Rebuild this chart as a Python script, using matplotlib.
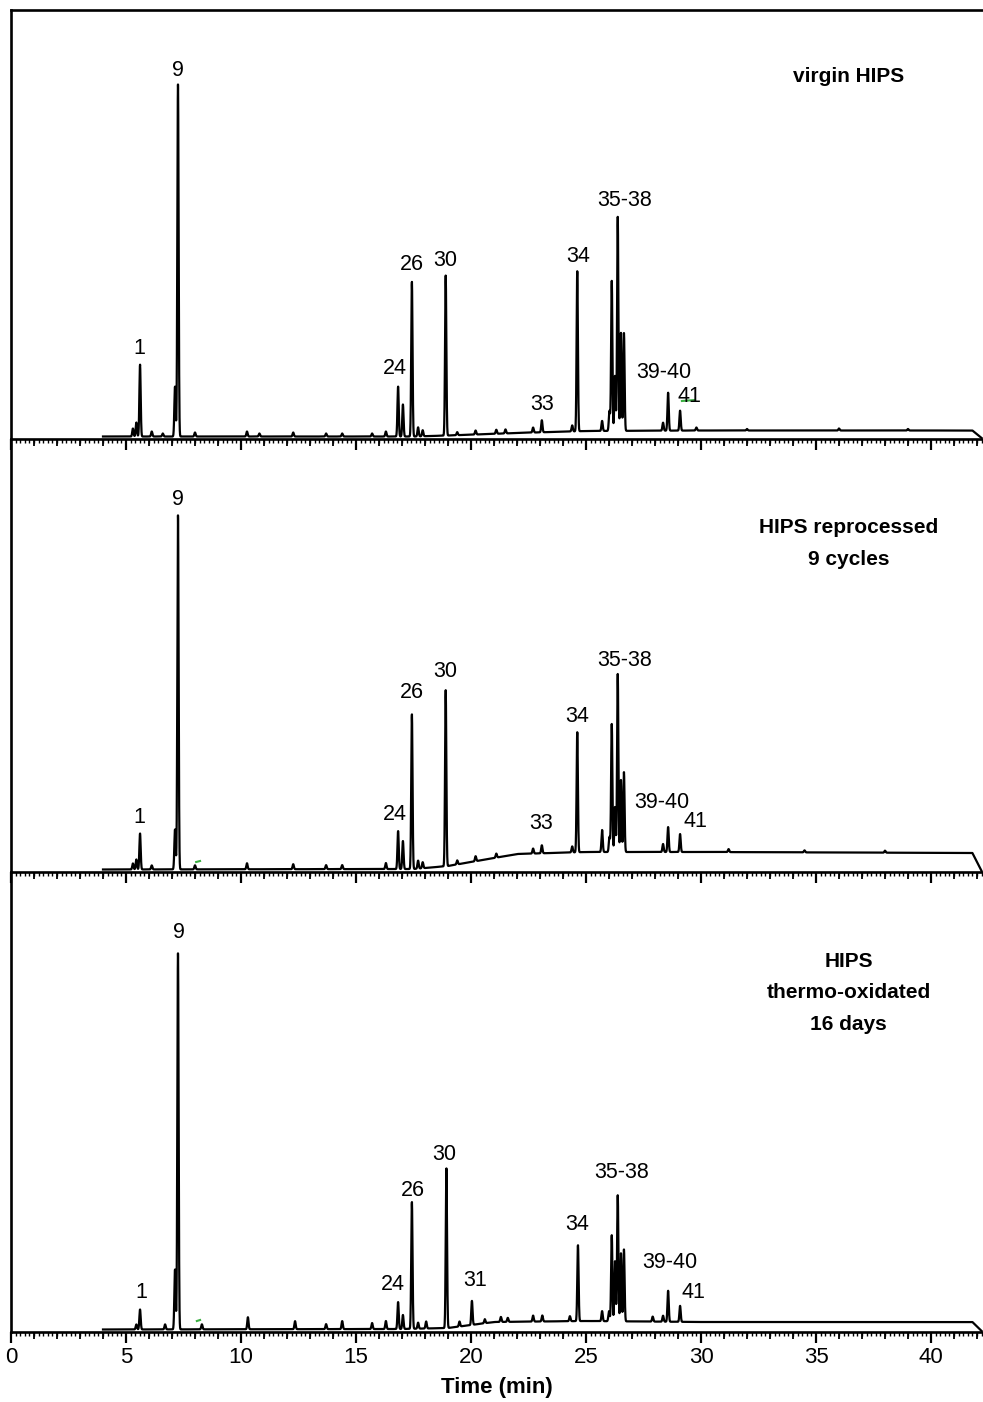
import numpy as np
import matplotlib.pyplot as plt
from matplotlib.ticker import MultipleLocator

plt.rcParams['font.family'] = ['Liberation Sans', 'DejaVu Sans']

# ---------------------------------------------------------------------------
# Peak tables: retention time (min) and peak height (arbitrary units)
# ---------------------------------------------------------------------------
virgin_rt = [5.30, 5.45, 5.61, 6.12, 6.60, 7.13, 7.26, 8.00, 10.26, 10.80, 12.27,
             13.70, 14.40, 15.70, 16.30, 16.83, 17.04, 17.43, 17.70, 17.90, 18.90,
             19.40, 20.20, 21.10, 21.50, 22.70, 23.08, 24.40, 24.62, 25.70, 26.02,
             26.12, 26.26, 26.38, 26.52, 26.65, 28.35, 28.57, 29.09, 29.80, 32.0,
             36.0, 39.0]
virgin_h = [8, 14, 72, 5, 3, 50, 352, 4, 5, 3, 4,
            3, 3, 3, 5, 50, 32, 155, 9, 6, 160,
            3, 4, 4, 4, 5, 12, 6, 160, 10, 20,
            150, 55, 214, 98, 98, 8, 38, 20, 3, 1.5,
            2, 1.5]

repro_rt = [5.30, 5.45, 5.61, 6.12, 7.13, 7.26, 8.00, 10.26, 12.27, 13.70, 14.40,
            16.30, 16.83, 17.04, 17.43, 17.70, 17.90, 18.90, 19.40, 20.20, 21.10,
            22.70, 23.08, 24.40, 24.62, 25.70, 26.02, 26.12, 26.26, 26.38, 26.52,
            26.65, 28.35, 28.57, 29.09, 31.20, 34.50, 38.0]
repro_h = [6, 10, 36, 4, 40, 354, 4, 6, 5, 4, 4,
           6, 38, 28, 155, 8, 6, 176, 4, 5, 4,
           5, 8, 6, 120, 22, 15, 128, 45, 178, 72,
           80, 8, 25, 18, 3, 2, 2]

oxid_rt = [5.45, 5.61, 6.70, 7.13, 7.26, 8.30, 10.30, 12.35, 13.70, 14.40, 15.70,
           16.30, 16.83, 17.04, 17.43, 17.70, 18.05, 18.93, 19.50, 20.04, 20.60,
           21.30, 21.60, 22.70, 23.10, 24.30, 24.65, 25.70, 26.00, 26.12, 26.26,
           26.38, 26.52, 26.65, 27.90, 28.35, 28.57, 29.09]
oxid_h = [5, 20, 5, 60, 376, 5, 12, 8, 5, 8, 6,
          8, 27, 14, 127, 6, 7, 160, 5, 24, 4,
          5, 4, 6, 6, 5, 76, 10, 10, 86, 60,
          126, 68, 72, 5, 6, 31, 16]

# Baseline drift knots: time (min), level
virgin_base_t = [4.0, 17.5, 19.0, 22.0, 25.0, 30.0, 41.8, 42.2]
virgin_base_y = [2.5, 2.5, 3.5, 6.0, 8.0, 8.5, 8.5, 1.0]
repro_base_t = [4.0, 17.5, 19.0, 20.5, 22.0, 25.0, 30.0, 41.8, 42.2]
repro_base_y = [2.5, 3.0, 6.0, 12.0, 18.0, 20.0, 20.0, 19.0, 1.0]
oxid_base_t = [4.0, 17.0, 19.0, 21.0, 25.0, 30.0, 41.8, 42.2]
oxid_base_y = [2.5, 3.0, 4.0, 10.0, 11.0, 10.0, 10.0, 1.0]

# Peak labels: compound number, time (min), height
virgin_lab = [("1", 5.60, 91), ("9", 7.26, 369), ("24", 16.70, 71), ("26", 17.43, 175),
              ("30", 18.90, 179), ("33", 23.10, 35), ("34", 24.65, 183),
              ("35-38", 26.70, 239), ("39-40", 28.40, 67), ("41", 29.50, 42)]
repro_lab = [("1", 5.60, 54), ("9", 7.26, 372), ("24", 16.70, 57), ("26", 17.43, 179),
             ("30", 18.90, 200), ("33", 23.05, 48), ("34", 24.62, 155),
             ("35-38", 26.70, 211), ("39-40", 28.30, 69), ("41", 29.75, 50)]
oxid_lab = [("1", 5.65, 39), ("9", 7.30, 399), ("24", 16.60, 47), ("26", 17.48, 142),
            ("30", 18.85, 177), ("31", 20.20, 52), ("34", 24.60, 107),
            ("35-38", 26.55, 159), ("39-40", 28.65, 70), ("41", 29.65, 39)]

# Short green marker strokes left on the traces: (t0, t1, height)
virgin_marks = [(29.17, 29.74, 38)]
repro_marks = [(8.05, 8.22, 10)]
oxid_marks = [(8.08, 8.22, 11)]

titles = ["virgin HIPS", "HIPS reprocessed\n9 cycles", "HIPS\nthermo-oxidated\n16 days"]

panels = [
    (virgin_rt, virgin_h, virgin_base_t, virgin_base_y, virgin_lab, virgin_marks, 429),
    (repro_rt, repro_h, repro_base_t, repro_base_y, repro_lab, repro_marks, 433),
    (oxid_rt, oxid_h, oxid_base_t, oxid_base_y, oxid_lab, oxid_marks, 460),
]

# ---------------------------------------------------------------------------
W, H = 983, 1402
fig = plt.figure(figsize=(W / 100, H / 100), dpi=100)

left = 11 / W
width = 1 - left
xmax = 972 / 23.0
axes_px = [(10, 439), (439, 872), (872, 1332)]
title_y = [0.846, 0.758, 0.737]

t = np.arange(4.0, 42.2, 0.004)
sigma = 0.028

for i, ((rt, hh, bt, by, labs, marks, ytop), (ptop, pbot)) in enumerate(zip(panels, axes_px)):
    ax = fig.add_axes([left, 1 - pbot / H, width, (pbot - ptop) / H])
    ax.patch.set_visible(False)
    y = np.interp(t, bt, by)
    for r, h in zip(rt, hh):
        y = y + h * np.exp(-0.5 * ((t - r) / sigma) ** 2)
    ax.plot(t, y, color='black', lw=1.6, solid_joinstyle='round')

    for t0, t1, mh in marks:
        ax.plot([t0, t1], [mh, mh + 1], color='#3cb043', lw=1.5)

    for txt, lx, ly in labs:
        ax.text(lx, ly, txt, ha='center', va='center', fontsize=15.5)

    ax.set_xlim(0, xmax)
    ax.set_ylim(0, ytop)
    ax.set_yticks([])
    ax.spines['right'].set_visible(False)
    if i > 0:
        ax.spines['top'].set_visible(False)
    for s in ('left', 'bottom', 'top'):
        ax.spines[s].set_linewidth(1.9)

    ax.xaxis.set_major_locator(MultipleLocator(5))
    ax.xaxis.set_minor_locator(MultipleLocator(0.2))
    ax.tick_params(axis='x', which='major', direction='out', length=8, width=1.6,
                   labelsize=16, pad=3)
    ax.tick_params(axis='x', which='minor', direction='out', length=3, width=1.0)
    # intermediate one-minute ticks
    sec = ax.secondary_xaxis('bottom')
    sec.set_xticks(np.arange(1, 43, 1))
    sec.tick_params(direction='out', length=5, width=1.3, labelbottom=False)
    sec.spines['bottom'].set_visible(False)
    if i < 2:
        ax.tick_params(axis='x', which='both', labelbottom=False)
    else:
        ax.set_xlabel("Time (min)", fontsize=16, fontweight='bold', labelpad=6)

    ax.text(0.862, title_y[i], titles[i], transform=ax.transAxes,
            ha='center', va='center', fontsize=15, fontweight='bold',
            linespacing=1.85)

fig.savefig("out.png", dpi=100)
